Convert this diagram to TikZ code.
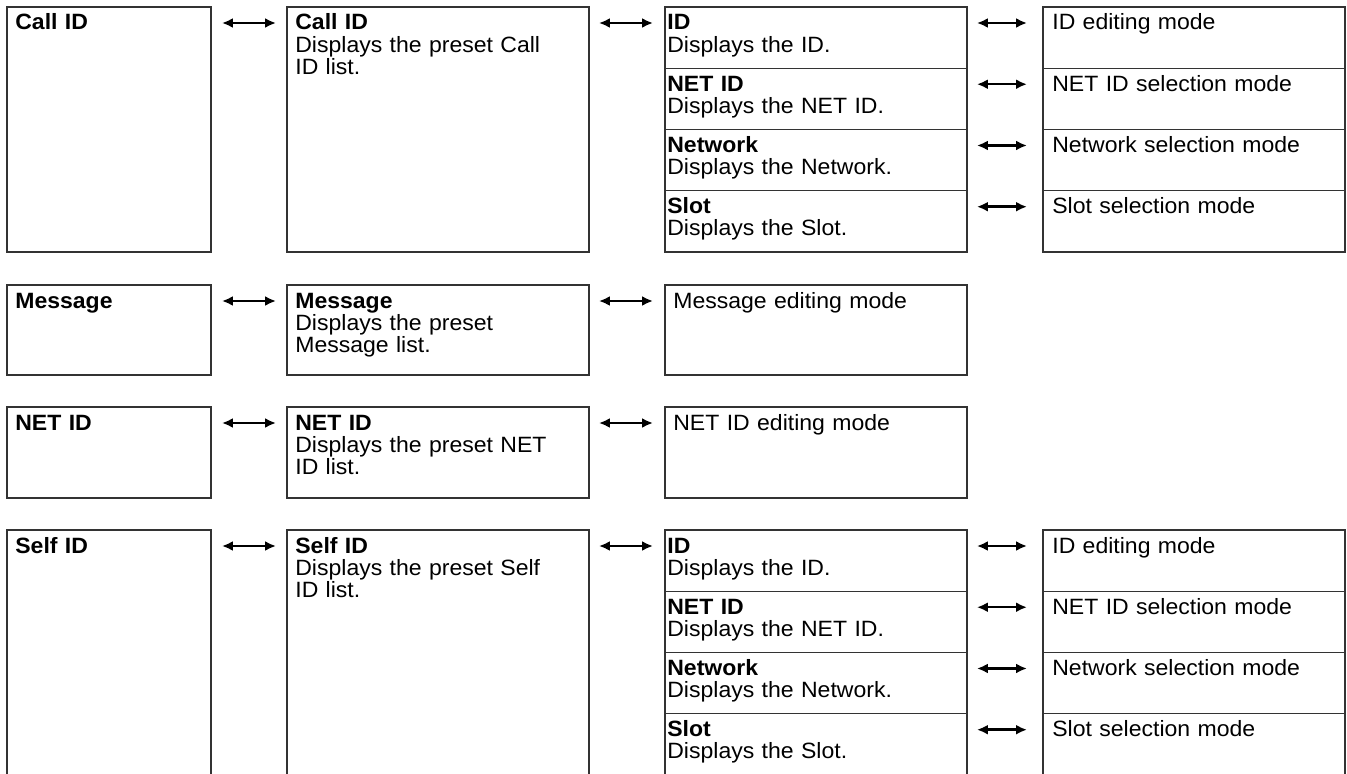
\documentclass[tikz,border=0pt]{standalone}
\usepackage{fontspec}
\setmainfont{Liberation Sans}[FakeStretch=1.04]
\usetikzlibrary{arrows.meta,positioning}

\begin{document}
\begin{tikzpicture}[x=0.02cm,y=-0.02cm,
    cell/.style 2 args={draw=black!80,line width=0.8pt,anchor=north west,inner sep=0pt,outer sep=0pt,
      minimum width=#1,minimum height=#2},
    txt/.style={anchor=base west,inner sep=0pt,text width=5.8cm,align=left,
      font=\fontsize{12.6pt}{12.6pt}\selectfont},
    link/.style={{Latex[length=2.2mm,width=2mm]}-{Latex[length=2.2mm,width=2mm]},line width=1.4pt}]
  \useasboundingbox (0,0) rectangle (1347,774);

  % Call ID
  \begin{scope}
    \node[cell={4.08cm}{4.9cm}] (callA) at (7,7) {};
    \node[cell={6.04cm}{4.9cm}] (callB) at (287,7) {};
    \node[cell={6.04cm}{1.225cm}] (callC1) at (665,7) {};
    \node[cell={6.04cm}{1.225cm}] (callC2) at (callC1.south west) {};
    \node[cell={6.04cm}{1.225cm}] (callC3) at (callC2.south west) {};
    \node[cell={6.04cm}{1.225cm}] (callC4) at (callC3.south west) {};
    \node[cell={6.04cm}{1.225cm}] (callD1) at (1043,7) {};
    \node[cell={6.04cm}{1.225cm}] (callD2) at (callD1.south west) {};
    \node[cell={6.04cm}{1.225cm}] (callD3) at (callD2.south west) {};
    \node[cell={6.04cm}{1.225cm}] (callD4) at (callD3.south west) {};
    \node[txt] (callAt) at ([shift={(8,23)}]callA.north west) {\textbf{Call ID}};
    \node[txt] (callBt) at ([shift={(8,23)}]callB.north west) {\textbf{Call ID}\\Displays the preset Call\\ID list.};
    \node[txt] (callC1t) at ([shift={(2,23)}]callC1.north west) {\textbf{ID}\\Displays the ID.};
    \node[txt] (callC2t) at ([shift={(2,23)}]callC2.north west) {\textbf{NET ID}\\Displays the NET ID.};
    \node[txt] (callC3t) at ([shift={(2,23)}]callC3.north west) {\textbf{Network}\\Displays the Network.};
    \node[txt] (callC4t) at ([shift={(2,23)}]callC4.north west) {\textbf{Slot}\\Displays the Slot.};
    \node[txt] (callD1t) at ([shift={(9,23)}]callD1.north west) {ID editing mode};
    \node[txt] (callD2t) at ([shift={(9,23)}]callD2.north west) {NET ID selection mode};
    \node[txt] (callD3t) at ([shift={(9,23)}]callD3.north west) {Network selection mode};
    \node[txt] (callD4t) at ([shift={(9,23)}]callD4.north west) {Slot selection mode};
    \draw[link] ([shift={(11,16)}]callA.north east) -- ([shift={(-11,16)}]callB.north west);
    \draw[link] ([shift={(10,16)}]callB.north east) -- ([shift={(-12,16)}]callC1.north west);
    \draw[link] ([shift={(10,16)}]callC1.north east) -- ([shift={(-16,16)}]callD1.north west);
    \draw[link] ([shift={(10,16)}]callC2.north east) -- ([shift={(-16,16)}]callD2.north west);
    \draw[link] ([shift={(10,16)}]callC3.north east) -- ([shift={(-16,16)}]callD3.north west);
    \draw[link] ([shift={(10,16)}]callC4.north east) -- ([shift={(-16,16)}]callD4.north west);
  \end{scope}

  % Message
  \begin{scope}
    \node[cell={4.08cm}{1.8cm}] (msgA) at (7,285) {};
    \node[cell={6.04cm}{1.8cm}] (msgB) at (287,285) {};
    \node[cell={6.04cm}{1.8cm}] (msgC) at (665,285) {};
    \node[txt] (msgAt) at ([shift={(8,23)}]msgA.north west) {\textbf{Message}};
    \node[txt] (msgBt) at ([shift={(8,23)}]msgB.north west) {\textbf{Message}\\Displays the preset\\Message list.};
    \node[txt] (msgCt) at ([shift={(8,23)}]msgC.north west) {Message editing mode};
    \draw[link] ([shift={(11,16)}]msgA.north east) -- ([shift={(-11,16)}]msgB.north west);
    \draw[link] ([shift={(10,16)}]msgB.north east) -- ([shift={(-12,16)}]msgC.north west);
  \end{scope}

  % NET ID
  \begin{scope}
    \node[cell={4.08cm}{1.82cm}] (netA) at (7,407) {};
    \node[cell={6.04cm}{1.82cm}] (netB) at (287,407) {};
    \node[cell={6.04cm}{1.82cm}] (netC) at (665,407) {};
    \node[txt] (netAt) at ([shift={(8,23)}]netA.north west) {\textbf{NET ID}};
    \node[txt] (netBt) at ([shift={(8,23)}]netB.north west) {\textbf{NET ID}\\Displays the preset NET\\ID list.};
    \node[txt] (netCt) at ([shift={(8,23)}]netC.north west) {NET ID editing mode};
    \draw[link] ([shift={(11,16)}]netA.north east) -- ([shift={(-11,16)}]netB.north west);
    \draw[link] ([shift={(10,16)}]netB.north east) -- ([shift={(-12,16)}]netC.north west);
  \end{scope}

  % Self ID
  \begin{scope}
    \node[cell={4.08cm}{4.9cm}] (selfA) at (7,530) {};
    \node[cell={6.04cm}{4.9cm}] (selfB) at (287,530) {};
    \node[cell={6.04cm}{1.225cm}] (selfC1) at (665,530) {};
    \node[cell={6.04cm}{1.225cm}] (selfC2) at (selfC1.south west) {};
    \node[cell={6.04cm}{1.225cm}] (selfC3) at (selfC2.south west) {};
    \node[cell={6.04cm}{1.225cm}] (selfC4) at (selfC3.south west) {};
    \node[cell={6.04cm}{1.225cm}] (selfD1) at (1043,530) {};
    \node[cell={6.04cm}{1.225cm}] (selfD2) at (selfD1.south west) {};
    \node[cell={6.04cm}{1.225cm}] (selfD3) at (selfD2.south west) {};
    \node[cell={6.04cm}{1.225cm}] (selfD4) at (selfD3.south west) {};
    \node[txt] (selfAt) at ([shift={(8,23)}]selfA.north west) {\textbf{Self ID}};
    \node[txt] (selfBt) at ([shift={(8,23)}]selfB.north west) {\textbf{Self ID}\\Displays the preset Self\\ID list.};
    \node[txt] (selfC1t) at ([shift={(2,23)}]selfC1.north west) {\textbf{ID}\\Displays the ID.};
    \node[txt] (selfC2t) at ([shift={(2,23)}]selfC2.north west) {\textbf{NET ID}\\Displays the NET ID.};
    \node[txt] (selfC3t) at ([shift={(2,23)}]selfC3.north west) {\textbf{Network}\\Displays the Network.};
    \node[txt] (selfC4t) at ([shift={(2,23)}]selfC4.north west) {\textbf{Slot}\\Displays the Slot.};
    \node[txt] (selfD1t) at ([shift={(9,23)}]selfD1.north west) {ID editing mode};
    \node[txt] (selfD2t) at ([shift={(9,23)}]selfD2.north west) {NET ID selection mode};
    \node[txt] (selfD3t) at ([shift={(9,23)}]selfD3.north west) {Network selection mode};
    \node[txt] (selfD4t) at ([shift={(9,23)}]selfD4.north west) {Slot selection mode};
    \draw[link] ([shift={(11,16)}]selfA.north east) -- ([shift={(-11,16)}]selfB.north west);
    \draw[link] ([shift={(10,16)}]selfB.north east) -- ([shift={(-12,16)}]selfC1.north west);
    \draw[link] ([shift={(10,16)}]selfC1.north east) -- ([shift={(-16,16)}]selfD1.north west);
    \draw[link] ([shift={(10,16)}]selfC2.north east) -- ([shift={(-16,16)}]selfD2.north west);
    \draw[link] ([shift={(10,16)}]selfC3.north east) -- ([shift={(-16,16)}]selfD3.north west);
    \draw[link] ([shift={(10,16)}]selfC4.north east) -- ([shift={(-16,16)}]selfD4.north west);
  \end{scope}
\end{tikzpicture}
\end{document}
